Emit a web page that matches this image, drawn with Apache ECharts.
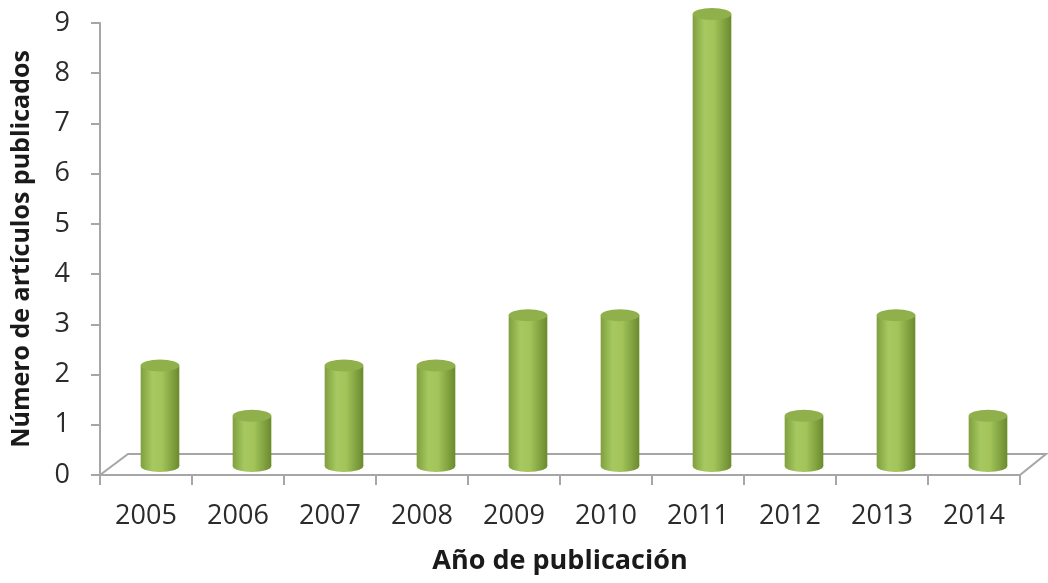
<!DOCTYPE html>
<html>
<head>
<meta charset="utf-8">
<script src="https://cdn.jsdelivr.net/npm/echarts@6/dist/echarts.min.js"></script>
<style>
  html, body { margin: 0; padding: 0; background: #fff; }
  #main { width: 1048px; height: 583px; }
</style>
</head>
<body>
<div id="main"></div>
<script type="text/javascript">
var years = ['2005', '2006', '2007', '2008', '2009', '2010', '2011', '2012', '2013', '2014'];
var articulos = [2, 1, 2, 2, 3, 3, 9, 1, 3, 1];

var barData = [];
for (var i = 0; i < years.length; i++) {
    barData.push([i, articulos[i]]);
}

// desplazamiento de la profundidad (suelo 3D)
var depthX = 28, depthY = -21;
var barDX = 14, barDY = -9;

var myChart = echarts.init(document.getElementById('main'));

function drawFloor(params, api) {
    var cs = params.coordSys;
    var x0 = cs.x, x1 = cs.x + cs.width, yb = cs.y + cs.height;
    return {
        type: 'polyline',
        shape: { points: [[x0, yb], [x0 + depthX, yb + depthY], [x1 + depthX - 2, yb + depthY], [x1, yb]] },
        style: { stroke: '#a6a6a6', lineWidth: 2, fill: null },
        z2: 1
    };
}

function drawCylinder(params, api) {
    var base = api.coord([api.value(0), 0]);
    var top = api.coord([api.value(0), api.value(1)]);
    var w = api.size([1, 0])[0] * 0.42;
    var rx = w / 2, ry = 6;
    var cx = base[0] + barDX;
    var yBottom = base[1] + barDY;
    var yTop = top[1] + barDY;
    var grad = new echarts.graphic.LinearGradient(0, 0, 1, 0, [
        { offset: 0, color: '#7f9f3e' },
        { offset: 0.3, color: '#a6c860' },
        { offset: 0.55, color: '#a2c45a' },
        { offset: 1, color: '#6a8a2e' }
    ]);
    return {
        type: 'group',
        children: [
            {
                type: 'circle',
                shape: { cx: 0, cy: 0, r: rx },
                x: cx, y: yBottom, scaleY: ry / rx,
                style: { fill: grad }
            },
            {
                type: 'rect',
                shape: { x: cx - rx, y: yTop, width: w, height: yBottom - yTop },
                style: { fill: grad }
            },
            {
                type: 'circle',
                shape: { cx: 0, cy: 0, r: rx },
                x: cx, y: yTop, scaleY: ry / rx,
                style: { fill: '#8fb04b' }
            }
        ]
    };
}

var option = {
    animation: false,
    grid: { left: 100, right: 28, top: 23, bottom: 108 },
    xAxis: {
        type: 'category',
        data: years,
        name: 'Año de publicación',
        nameLocation: 'middle',
        nameGap: 73,
        nameTextStyle: { fontFamily: 'Open Sans', fontWeight: 'bold', fontSize: 27, color: '#1a1a1a' },
        axisLine: { lineStyle: { color: '#a6a6a6', width: 2 } },
        axisTick: { show: true, alignWithLabel: false, length: 10, lineStyle: { color: '#a6a6a6', width: 2 } },
        axisLabel: { margin: 28, fontFamily: 'Open Sans', fontSize: 27, color: '#2b2b2b' }
    },
    yAxis: {
        type: 'value',
        min: 0,
        max: 9,
        interval: 1,
        name: 'Número de artículos publicados',
        nameLocation: 'middle',
        nameGap: 66,
        nameTextStyle: { fontFamily: 'Open Sans', fontWeight: 'bold', fontSize: 25, color: '#1a1a1a' },
        axisLine: { show: true, lineStyle: { color: '#a6a6a6', width: 2 } },
        axisTick: { show: true, length: 9, lineStyle: { color: '#a6a6a6', width: 2 } },
        axisLabel: { margin: 30, fontFamily: 'Open Sans', fontSize: 27, color: '#2b2b2b' },
        splitLine: { show: false }
    },
    series: [
        {
            type: 'custom',
            renderItem: drawFloor,
            data: [[0, 0]],
            silent: true,
            z: 1
        },
        {
            name: 'Artículos',
            type: 'custom',
            renderItem: drawCylinder,
            encode: { x: 0, y: 1 },
            data: barData,
            z: 3
        }
    ]
};
myChart.setOption(option);
</script>
</body>
</html>
